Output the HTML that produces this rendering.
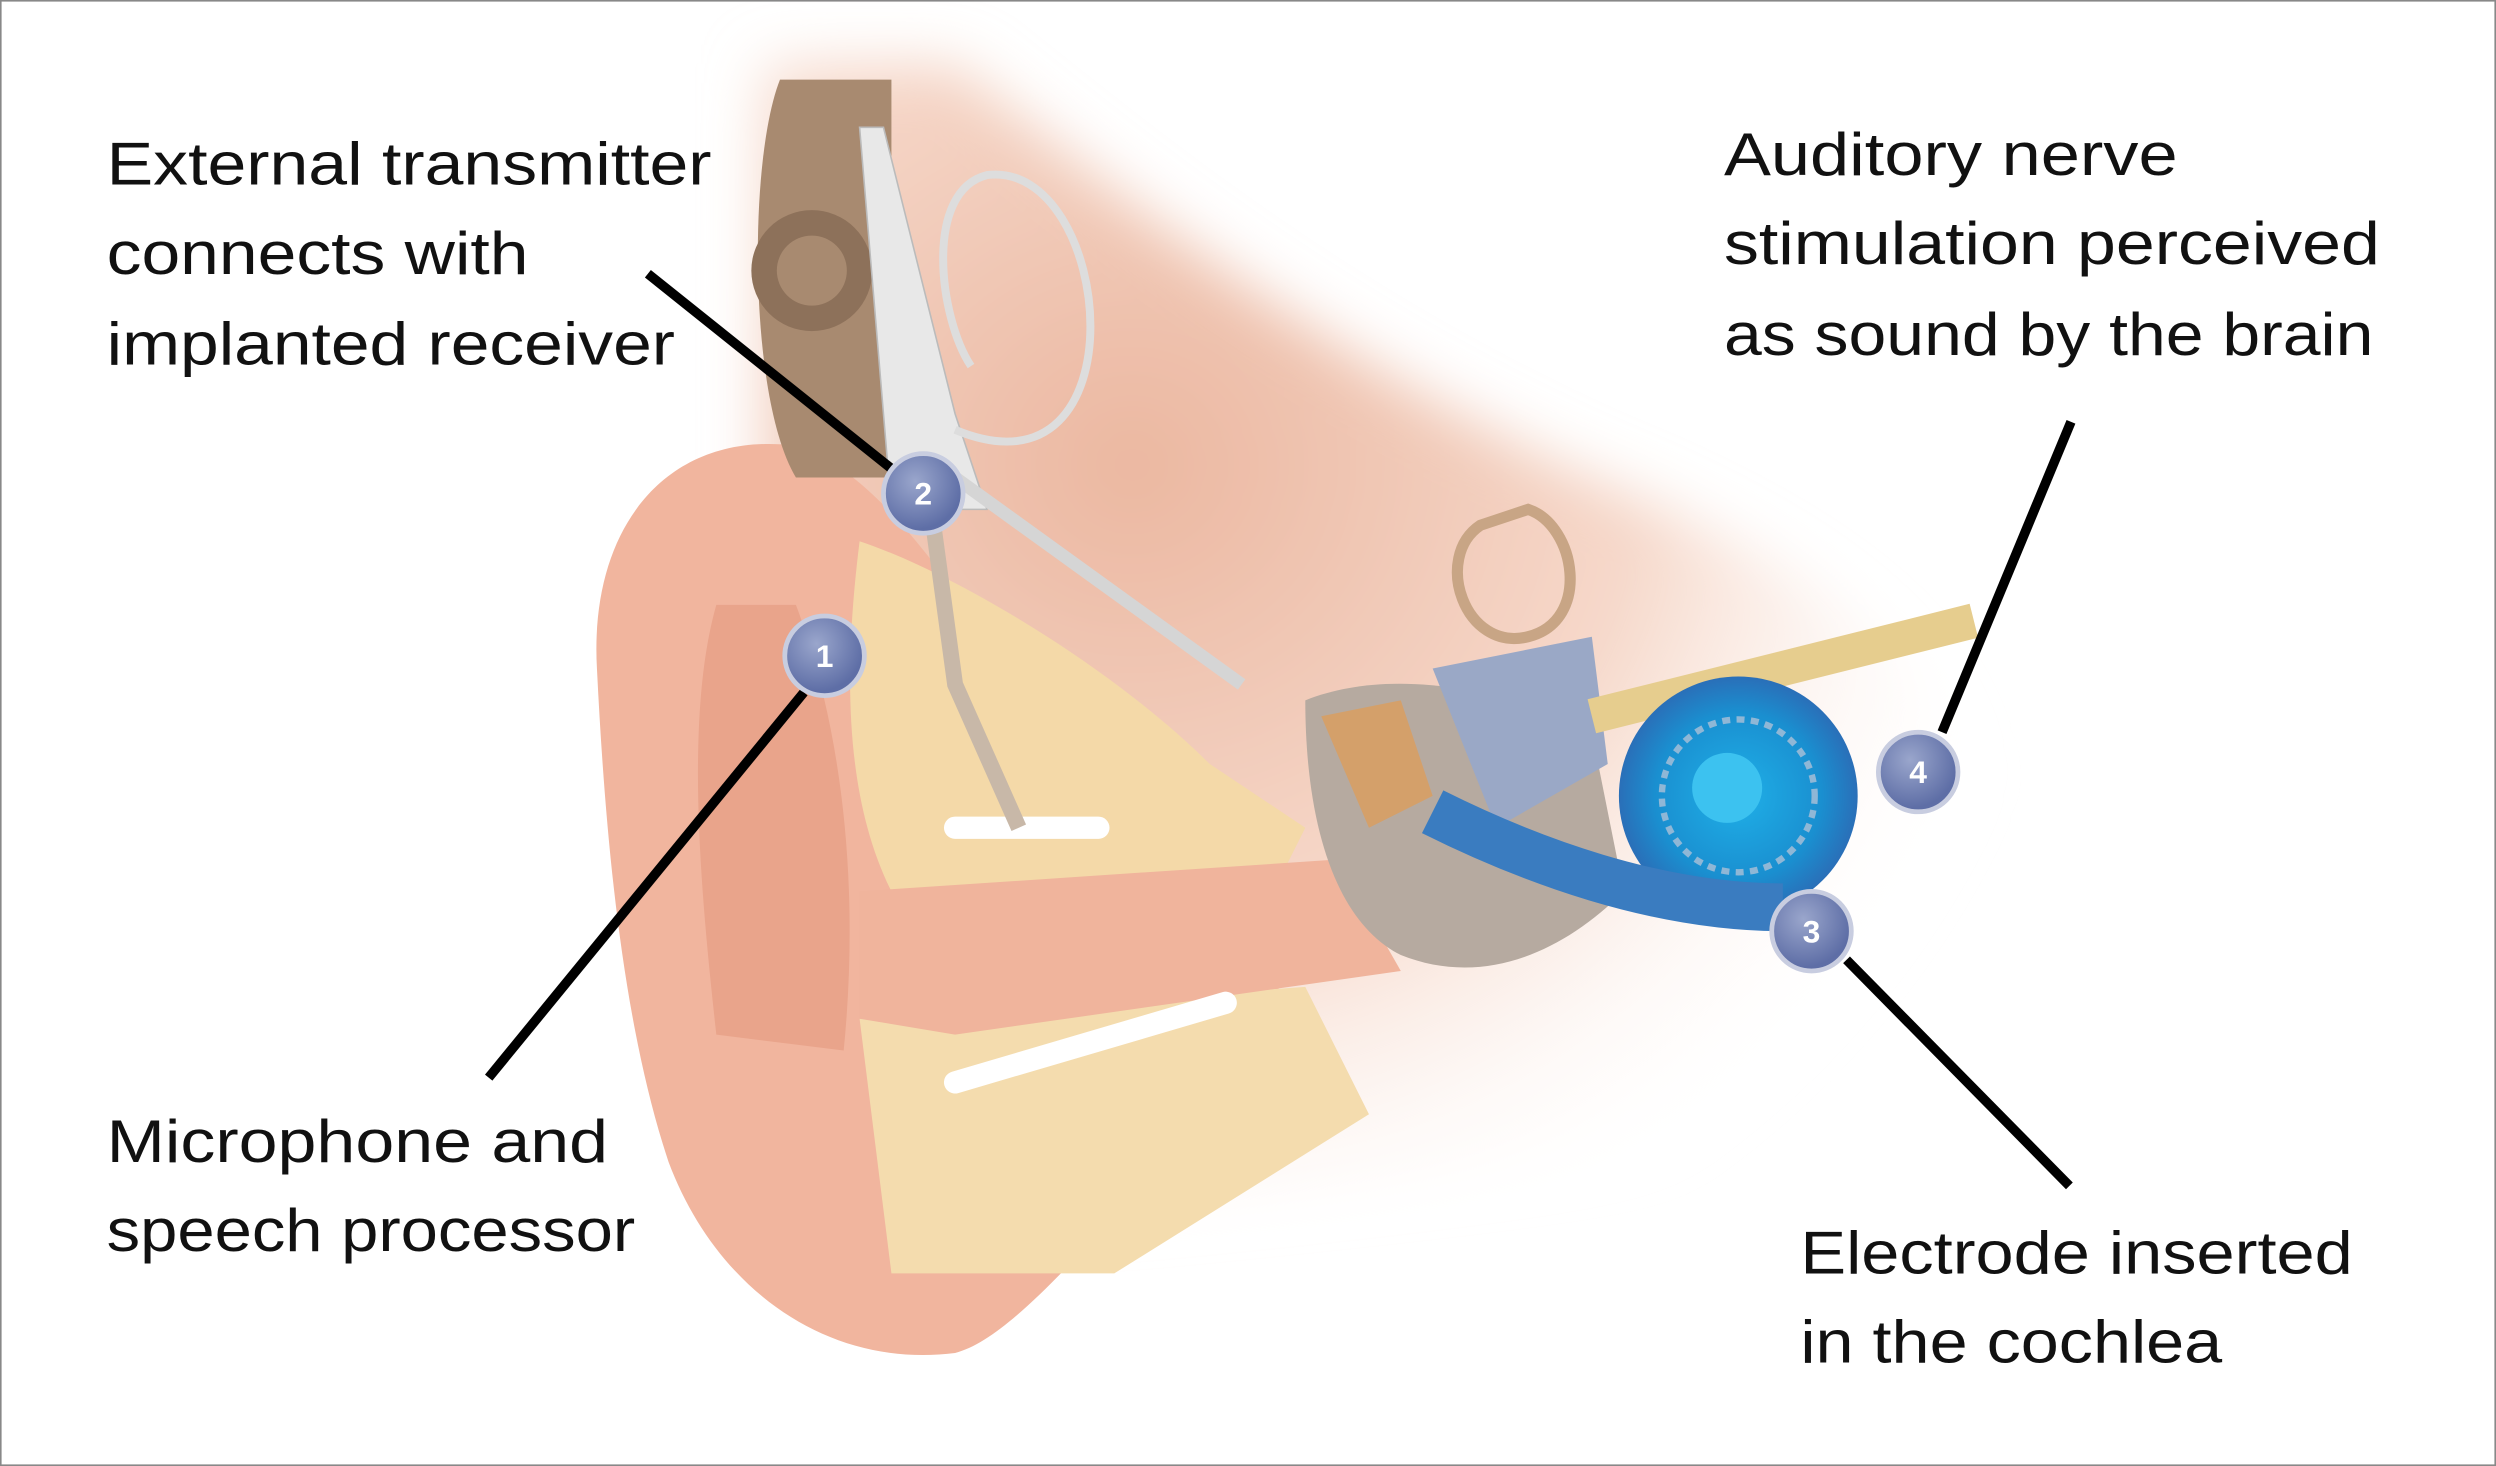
<!DOCTYPE html>
<html><head><meta charset="utf-8"><style>
html,body{margin:0;padding:0;background:#fff;}
svg{display:block;}
text{font-family:"Liberation Sans",sans-serif;fill:#111;}
</style></head><body>
<svg width="2496" height="1466" viewBox="0 0 1568 921" preserveAspectRatio="none" xmlns="http://www.w3.org/2000/svg">
<defs>
<radialGradient id="head" cx="0.3" cy="0.35" r="0.75">
<stop offset="0" stop-color="#ebb7a0"/><stop offset="0.55" stop-color="#f6d8ca"/><stop offset="1" stop-color="#ffffff" stop-opacity="0"/></radialGradient>
<radialGradient id="coch" cx="0.5" cy="0.5" r="0.5">
<stop offset="0" stop-color="#1fb0e8"/><stop offset="0.7" stop-color="#1a8fd0"/><stop offset="1" stop-color="#2a6fb8"/></radialGradient>
<radialGradient id="btn" cx="0.4" cy="0.35" r="0.6">
<stop offset="0" stop-color="#9aa6cc"/><stop offset="1" stop-color="#5e6ea6"/></radialGradient>
<filter id="blur"><feGaussianBlur stdDeviation="18"/></filter>
</defs>
<rect x="0" y="0" width="1568" height="921" fill="#fff"/>
<rect x="0.5" y="0.5" width="1567" height="920" fill="none" stroke="#888" stroke-width="1"/>
<path d="M480 40 L600 40 C700 120 820 220 1000 300 C1150 360 1230 420 1250 520 C1260 620 1200 700 1100 720 L700 760 L480 760 Z" fill="url(#head)" filter="url(#blur)"/>
<path d="M500 280 C420 270 370 330 375 420 C380 520 390 640 420 730 C450 810 520 860 600 850 C640 840 700 760 760 700 C800 650 820 600 800 540 C760 500 700 470 640 420 C600 380 560 300 500 280 Z" fill="#f1b59e"/>
<path d="M450 380 C430 450 440 560 450 650 L530 660 C540 560 530 460 500 380 Z" fill="#e9a48b"/>
<path d="M540 340 C600 360 700 420 760 480 L820 520 L800 560 L560 560 C530 500 530 420 540 340 Z" fill="#f4d9a8"/>
<path d="M540 640 L820 620 L860 700 L700 800 L560 800 Z" fill="#f4dcae"/>
<path d="M540 560 L840 540 L880 610 L600 650 L540 640 Z" fill="#f0b49c"/>
<path d="M600 520 L690 520" stroke="#fff" stroke-width="14" stroke-linecap="round"/>
<path d="M600 680 L770 630" stroke="#fff" stroke-width="14" stroke-linecap="round"/>
<path d="M490 50 L560 50 L560 300 L500 300 C470 250 470 100 490 50 Z" fill="#a88a70"/>
<circle cx="510" cy="170" r="38" fill="#8d715a"/>
<circle cx="510" cy="170" r="22" fill="#a88a70"/>
<path d="M555 80 L600 260 L620 320 L560 320 L540 80 Z" fill="#e8e8e8" stroke="#bbb"/>
<path d="M600 270 C720 320 700 100 620 110 C580 120 590 200 610 230" fill="none" stroke="#ddd" stroke-width="5"/>
<path d="M600 300 L780 430" stroke="#d5d5d5" stroke-width="8"/>
<path d="M585 320 L600 430 L640 520" stroke="#c8b8a8" stroke-width="10" fill="none"/>
<path d="M820 440 C870 420 940 430 1000 460 L1020 560 C980 600 930 620 880 600 C840 580 820 520 820 440 Z" fill="#b6aaa0"/>
<path d="M830 450 L880 440 L900 500 L860 520 Z" fill="#d4a06a"/>
<path d="M930 330 C900 350 920 410 960 400 C1000 390 990 330 960 320 Z" fill="none" stroke="#c8a585" stroke-width="7"/>
<path d="M900 420 L1000 400 L1010 480 L940 520 Z" fill="#9aa8c6"/>
<path d="M1000 450 C1080 430 1160 410 1240 390" stroke="#e6cd8e" stroke-width="22" fill="none"/>
<circle cx="1092" cy="500" r="75" fill="url(#coch)"/>
<path d="M900 510 C960 540 1040 570 1120 570" stroke="#3a7cc0" stroke-width="30" fill="none"/>
<circle cx="1092" cy="500" r="48" fill="none" stroke="#8fb7d6" stroke-width="4" stroke-dasharray="5 4"/>
<circle cx="1085" cy="495" r="22" fill="#3cc2f0"/>
<g stroke="#000" stroke-width="6">
<line x1="307" y1="677" x2="505" y2="435"/>
<line x1="407" y1="172" x2="562" y2="296"/>
<line x1="1160" y1="603" x2="1300" y2="745"/>
<line x1="1301" y1="265" x2="1220" y2="460"/>
</g>
<g font-weight="bold" font-size="20" text-anchor="middle">
<circle cx="518" cy="412" r="25" fill="url(#btn)" stroke="#c8cde0" stroke-width="3"/><text x="518" y="419" style="fill:#fff">1</text>
<circle cx="580" cy="310" r="25" fill="url(#btn)" stroke="#c8cde0" stroke-width="3"/><text x="580" y="317" style="fill:#fff">2</text>
<circle cx="1138" cy="585" r="25" fill="url(#btn)" stroke="#c8cde0" stroke-width="3"/><text x="1138" y="592" style="fill:#fff">3</text>
<circle cx="1205" cy="485" r="25" fill="url(#btn)" stroke="#c8cde0" stroke-width="3"/><text x="1205" y="492" style="fill:#fff">4</text>
</g>
<g font-size="38">
<text x="67" y="116" textLength="380" lengthAdjust="spacingAndGlyphs">External transmitter</text>
<text x="67" y="172" textLength="265" lengthAdjust="spacingAndGlyphs">connects with</text>
<text x="67" y="229" textLength="357" lengthAdjust="spacingAndGlyphs">implanted receiver</text>
<text x="1083" y="110" textLength="285" lengthAdjust="spacingAndGlyphs">Auditory nerve</text>
<text x="1083" y="166" textLength="412" lengthAdjust="spacingAndGlyphs">stimulation perceived</text>
<text x="1083" y="223" textLength="408" lengthAdjust="spacingAndGlyphs">as sound by the brain</text>
<text x="67" y="730" textLength="315" lengthAdjust="spacingAndGlyphs">Microphone and</text>
<text x="67" y="786" textLength="332" lengthAdjust="spacingAndGlyphs">speech processor</text>
<text x="1131" y="800" textLength="347" lengthAdjust="spacingAndGlyphs">Electrode inserted</text>
<text x="1131" y="856" textLength="265" lengthAdjust="spacingAndGlyphs">in the cochlea</text>
</g>
</svg>
</body></html>
